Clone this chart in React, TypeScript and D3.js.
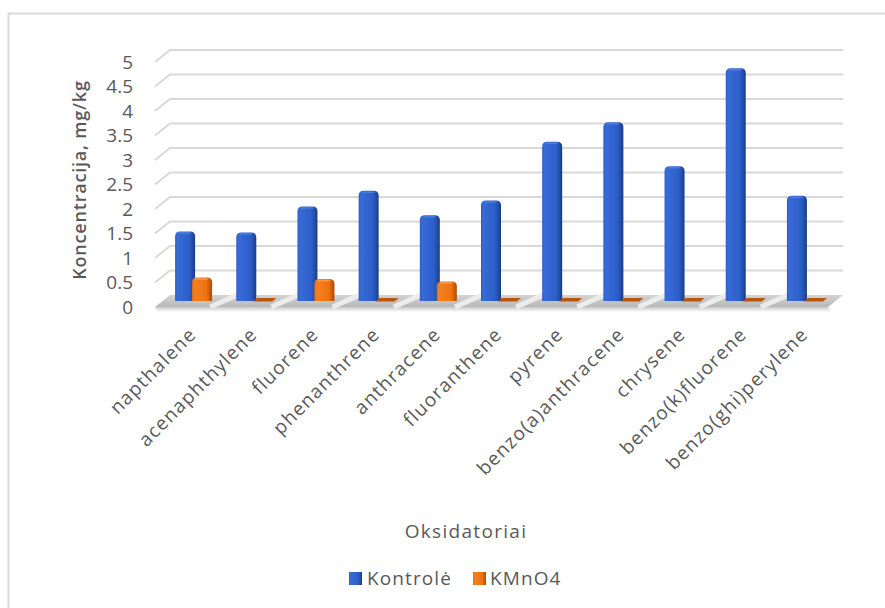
import React from "react";
import * as d3 from "d3";

const categories = [
  "napthalene",
  "acenaphthylene",
  "fluorene",
  "phenanthrene",
  "anthracene",
  "fluoranthene",
  "pyrene",
  "benzo(a)anthracene",
  "chrysene",
  "benzo(k)fluorene",
  "benzo(ghi)perylene",
];
const kontrole = [1.42, 1.4, 1.93, 2.25, 1.75, 2.05, 3.25, 3.65, 2.75, 4.75, 2.15];
const kmno4 = [0.48, 0, 0.45, 0, 0.4, 0, 0, 0, 0, 0, 0];
const yTicks = [0, 0.5, 1, 1.5, 2, 2.5, 3, 3.5, 4, 4.5, 5];
const seriesNames = ["Kontrolė", "KMnO4"];
const yTitle = "Koncentracija, mg/kg";
const xTitle = "Oksidatoriai";

const W = 885;
const H = 608;
const FONT = "'Open Sans', Lato, sans-serif";
const TXT = "#595959";

export default function App() {
  // back wall
  const y = d3.scaleLinear().domain([0, 5]).range([295, 50]);
  const x = d3.scaleBand<string>().domain(categories).range([170, 843]);
  const depthDx = -15;
  const depthDy = 12;
  const midDx = depthDx / 2;
  const midDy = depthDy / 2;
  const unit = y(0) - y(1);
  const baseY = y(0) + midDy;
  const bw = 20;

  const barPath = (x0: number, top: number, bottom: number, w: number) => {
    const r = Math.min(5, (bottom - top) / 2);
    return `M${x0},${bottom} L${x0},${top + r} Q${x0},${top} ${x0 + r},${top} L${x0 + w - r},${top} Q${x0 + w},${top} ${x0 + w},${top + r} L${x0 + w},${bottom} Z`;
  };

  const floorBack0 = x.range()[0];
  const floorBack1 = x.range()[1];

  return (
    <svg
      width={W}
      height={H}
      style={{ position: "absolute", left: 0, top: 0, background: "#fff" }}
      xmlns="http://www.w3.org/2000/svg"
    >
      <defs>
        <linearGradient id="gBlue" x1="0" x2="1" y1="0" y2="0">
          <stop offset="0" stopColor="#2c5ec8" />
          <stop offset="0.12" stopColor="#386bd6" />
          <stop offset="0.7" stopColor="#2d5ec8" />
          <stop offset="0.85" stopColor="#2450ab" />
          <stop offset="1" stopColor="#1a3a80" />
        </linearGradient>
        <linearGradient id="gOrange" x1="0" x2="1" y1="0" y2="0">
          <stop offset="0" stopColor="#e86e10" />
          <stop offset="0.12" stopColor="#f57f1e" />
          <stop offset="0.7" stopColor="#ee7412" />
          <stop offset="0.85" stopColor="#d0600a" />
          <stop offset="1" stopColor="#a84a04" />
        </linearGradient>
        <linearGradient id="gFloor" x1="0" x2="0" y1="0" y2="1">
          <stop offset="0" stopColor="#d4d4d4" />
          <stop offset="1" stopColor="#b8b8b8" />
        </linearGradient>
        <linearGradient id="gShadow" x1="0" x2="0" y1="0" y2="1">
          <stop offset="0" stopColor="#c8c8c8" />
          <stop offset="1" stopColor="#ffffff" />
        </linearGradient>
      </defs>
      <rect x={0} y={0} width={W} height={H} fill="#fff" />
      {/* chart border */}
      <rect x={8.5} y={13.5} width={W + 20} height={H + 20} fill="none" stroke="#d9d9d9" strokeWidth={2} />

      {/* gridlines on back wall + side wall */}
      {yTicks.map((t) => (
        <g key={"g" + t}>
          {t > 0 && (
            <polyline
              points={`${floorBack0 + depthDx},${y(t) + depthDy} ${floorBack0},${y(t)} ${floorBack1},${y(t)}`}
              fill="none"
              stroke="#d9d9d9"
              strokeWidth={2}
            />
          )}
          <text
            x={133}
            y={y(t) + depthDy}
            dy="0.36em"
            textAnchor="end"
            fontFamily={FONT}
            fontSize={19}
            fill={TXT}
          >
            {t}
          </text>
        </g>
      ))}

      {/* floor */}
      <polygon
        points={`${floorBack0 + depthDx},${y(0) + depthDy} ${floorBack1 + depthDx},${y(0) + depthDy} ${floorBack1 + depthDx + 3},${y(0) + depthDy + 5} ${floorBack0 + depthDx + 3},${y(0) + depthDy + 5}`}
        fill="url(#gShadow)"
      />
      <polygon
        points={`${floorBack0},${y(0)} ${floorBack1},${y(0)} ${floorBack1 + depthDx},${y(0) + depthDy} ${floorBack0 + depthDx},${y(0) + depthDy}`}
        fill="url(#gFloor)"
      />
      {categories.map((c, i) =>
        i === 0 ? null : (
          <line
            key={"fl" + c}
            x1={(x(c) as number) + 6}
            y1={y(0)}
            x2={(x(c) as number) + depthDx - 6}
            y2={y(0) + depthDy}
            stroke="#ececec"
            strokeWidth={5}
          />
        )
      )}

      {/* bars */}
      {categories.map((c, i) => {
        const cx = (x(c) as number) + x.bandwidth() / 2 + midDx;
        const vb = kontrole[i];
        const vo = kmno4[i];
        const bx = cx - 18;
        const ox = cx - 1;
        return (
          <g key={"b" + c}>
            <path d={barPath(bx, baseY - vb * unit, baseY, bw)} fill="url(#gBlue)" />
            <path
              d={`M${bx + 4},${baseY - vb * unit + 1.5} L${bx + bw - 5},${baseY - vb * unit + 1.5}`}
              stroke="#4a7de0"
              strokeWidth={1.5}
              strokeLinecap="round"
            />
            {vo > 0 ? (
              <>
                <path d={barPath(ox, baseY - vo * unit, baseY, bw)} fill="url(#gOrange)" />
                <path
                  d={`M${ox + 4},${baseY - vo * unit + 1.5} L${ox + bw - 5},${baseY - vo * unit + 1.5}`}
                  stroke="#f99a4a"
                  strokeWidth={1.5}
                  strokeLinecap="round"
                />
              </>
            ) : (
              <polygon
                points={`${ox + 4},${baseY - 3} ${ox + bw + 3},${baseY - 3} ${ox + bw - 1},${baseY + 0.5} ${ox},${baseY + 0.5}`}
                fill="#b8560c"
              />
            )}
          </g>
        );
      })}

      {/* category labels */}
      {categories.map((c) => {
        const cx = (x(c) as number) + x.bandwidth() / 2 + midDx;
        const ax = cx - 0.5;
        const ay = 331;
        return (
          <text
            key={"l" + c}
            x={ax}
            y={ay}
            dy="0.35em"
            textAnchor="end"
            transform={`rotate(-45 ${ax} ${ay})`}
            fontFamily={FONT}
            fontSize={19}
            letterSpacing={1.2}
            fill={TXT}
          >
            {c}
          </text>
        );
      })}

      {/* axis titles */}
      <text
        x={80}
        y={180}
        dy="0.35em"
        textAnchor="middle"
        transform="rotate(-90 80 180)"
        fontFamily={FONT}
        fontSize={18}
        fontWeight={600}
        letterSpacing={0.8}
        fill={TXT}
      >
        {yTitle}
      </text>
      <text
        x={466}
        y={531}
        dy="0.35em"
        textAnchor="middle"
        fontFamily={FONT}
        fontSize={19}
        letterSpacing={1.3}
        fill={TXT}
      >
        {xTitle}
      </text>

      {/* legend */}
      <g fontFamily={FONT} fontSize={19} letterSpacing={1.1} fill={TXT}>
        <rect x={349} y={572} width={13} height={13} fill="url(#gBlue)" />
        <text x={367} y={578.5} dy="0.36em">
          {seriesNames[0]}
        </text>
        <rect x={473} y={572} width={13} height={13} fill="url(#gOrange)" />
        <text x={490} y={578.5} dy="0.36em">
          {seriesNames[1]}
        </text>
      </g>
    </svg>
  );
}
